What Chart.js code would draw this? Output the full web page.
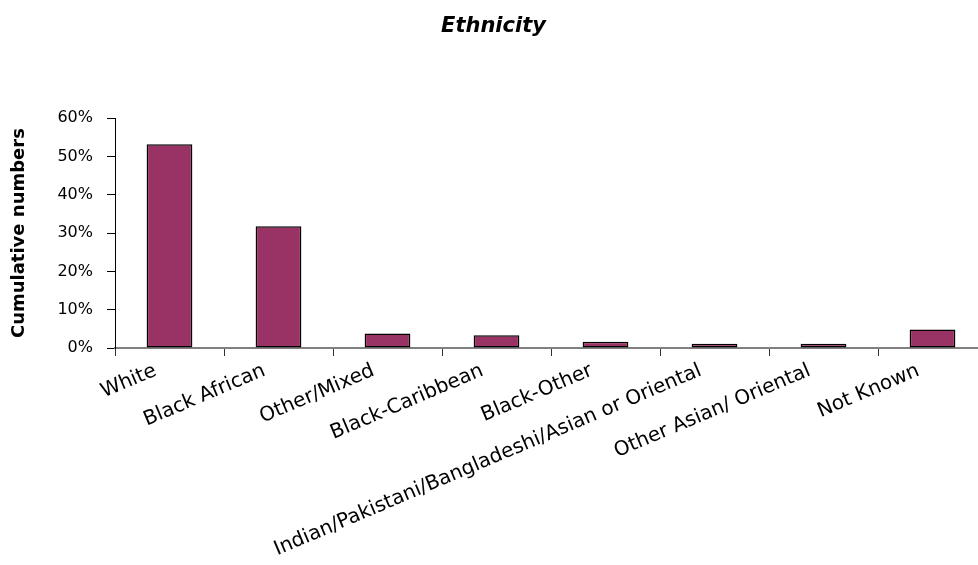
<!DOCTYPE html>
<html>
<head>
<meta charset="utf-8">
<script src="https://cdn.jsdelivr.net/npm/chart.js@4.4.0/dist/chart.umd.min.js"></script>
<style>
  body { margin: 0; overflow: hidden; background: #fff; }
  canvas { display: block; }
</style>
</head>
<body>
<canvas id="bar-chart" width="990" height="565"></canvas>
<script>
// data
var categories = ['White', 'Black African', 'Other/Mixed', 'Black-Caribbean', 'Black-Other',
  'Indian/Pakistani/Bangladeshi/Asian or Oriental', 'Other Asian/ Oriental', 'Not Known'];
var shares = [53.2, 31.8, 3.8, 3.3, 1.6, 1.1, 1.1, 4.8];
var yTicks = [0, 10, 20, 30, 40, 50, 60];

var font = 'DejaVu Sans';

new Chart(document.getElementById('bar-chart'), {
  type: 'bar',
  data: {
    labels: categories,
    datasets: [{
      data: shares,
      backgroundColor: '#993366',
      borderColor: '#000',
      borderWidth: 1.5,
      borderSkipped: false,
      barPercentage: 0.42,
      categoryPercentage: 1
    }]
  },
  options: {
    responsive: false,
    animation: false,
    layout: { padding: { left: 0, right: 3, top: 0, bottom: 0 } },
    plugins: {
      legend: { display: false },
      tooltip: { enabled: false },
      title: {
        display: true,
        text: 'Ethnicity',
        color: '#000',
        font: { family: font, size: 21, weight: 'bold', style: 'italic' },
        padding: { top: 14, bottom: 79 }
      }
    },
    scales: {
      x: {
        offset: true,
        grid: { offset: true, drawOnChartArea: false, drawTicks: true, tickLength: 8, color: '#333' },
        border: { color: '#808080', width: 2 },
        ticks: {
          autoSkip: false,
          minRotation: 23,
          maxRotation: 23,
          padding: 3,
          labelOffset: -14,
          color: '#000',
          font: { family: font, size: 20 }
        },
        afterFit: function(scale) { scale.height = 217; }
      },
      y: {
        min: 0,
        max: 60,
        afterBuildTicks: function(scale) {
          scale.ticks = yTicks.map(function(v) { return { value: v }; });
        },
        grid: { drawOnChartArea: false, drawTicks: true, tickLength: 8, color: '#000' },
        border: { color: '#000', width: 1 },
        ticks: {
          padding: 14,
          color: '#000',
          font: { family: font, size: 16 },
          callback: function(v) { return v + '%'; }
        },
        title: {
          display: true,
          text: 'Cumulative numbers',
          color: '#000',
          font: { family: font, size: 18, weight: 'bold' },
          padding: { top: 9, bottom: 0 }
        },
        afterFit: function(scale) { scale.width = 115; }
      }
    }
  }
});
</script>
</body>
</html>
